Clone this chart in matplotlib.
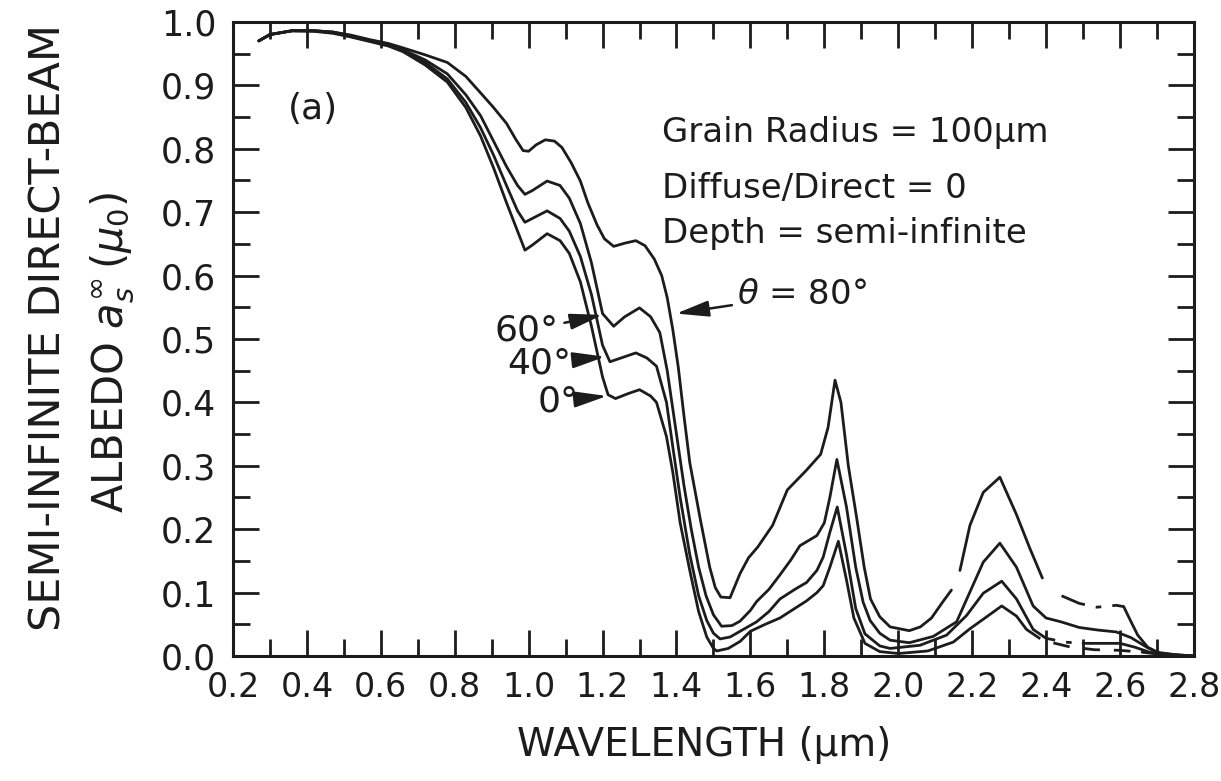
import numpy as np
import matplotlib.pyplot as plt
from matplotlib.ticker import MultipleLocator, FormatStrFormatter

# direct-beam albedo of semi-infinite snow
# one wavelength / albedo pair per solar zenith angle
wl_80 = [0.27, 0.30, 0.36, 0.42, 0.47, 0.52, 0.57, 0.62, 0.66, 0.72, 0.78, 0.83,
         0.87, 0.905, 0.94, 0.965, 0.985, 1.00, 1.02, 1.045, 1.07, 1.09, 1.115,
         1.14, 1.16, 1.185, 1.205, 1.23, 1.26, 1.29, 1.315, 1.34, 1.36, 1.375,
         1.39, 1.405, 1.42, 1.436, 1.465, 1.49, 1.505, 1.52, 1.545, 1.572, 1.595,
         1.62, 1.66, 1.70, 1.75, 1.79, 1.81, 1.829, 1.845, 1.865, 1.887, 1.908,
         1.925, 1.95, 1.978, 2.03, 2.06, 2.09, 2.12, 2.144, 2.167, 2.194, 2.23,
         2.275, 2.32, 2.356, 2.39, 2.442, 2.49, 2.537, 2.59, 2.61, 2.63, 2.648,
         2.675, 2.70, 2.75, 2.80]
alb_80 = [0.970, 0.980, 0.986, 0.986, 0.984, 0.979, 0.972, 0.966, 0.959, 0.948,
          0.936, 0.914, 0.888, 0.865, 0.840, 0.815, 0.797, 0.796, 0.806, 0.814,
          0.812, 0.802, 0.778, 0.749, 0.715, 0.680, 0.658, 0.646, 0.651, 0.655,
          0.647, 0.626, 0.600, 0.565, 0.515, 0.455, 0.380, 0.305, 0.214, 0.140,
          0.108, 0.093, 0.092, 0.130, 0.155, 0.172, 0.206, 0.262, 0.292, 0.318,
          0.360, 0.435, 0.400, 0.300, 0.220, 0.140, 0.090, 0.062, 0.046, 0.040,
          0.046, 0.060, 0.085, 0.104, 0.135, 0.206, 0.258, 0.282, 0.223, 0.170,
          0.123, 0.095, 0.083, 0.077, 0.080, 0.078, 0.054, 0.033, 0.014, 0.006,
          0.002, 0.0]

wl_60 = [0.27, 0.30, 0.36, 0.42, 0.47, 0.52, 0.57, 0.62, 0.66, 0.72, 0.78, 0.83,
         0.87, 0.905, 0.94, 0.97, 0.99, 1.01, 1.05, 1.085, 1.11, 1.14, 1.17, 1.20,
         1.23, 1.26, 1.30, 1.33, 1.355, 1.375, 1.39, 1.405, 1.42, 1.44, 1.46, 1.48,
         1.50, 1.522, 1.55, 1.572, 1.60, 1.617, 1.65, 1.68, 1.71, 1.734, 1.76,
         1.78, 1.80, 1.815, 1.834, 1.86, 1.885, 1.905, 1.924, 1.95, 1.978, 2.03,
         2.095, 2.158, 2.194, 2.23, 2.275, 2.32, 2.365, 2.40, 2.44, 2.49, 2.54,
         2.59, 2.63, 2.675, 2.71, 2.80]
alb_60 = [0.970, 0.980, 0.986, 0.986, 0.984, 0.978, 0.971, 0.964, 0.956, 0.940,
          0.918, 0.885, 0.852, 0.812, 0.772, 0.742, 0.728, 0.734, 0.749, 0.742,
          0.722, 0.682, 0.620, 0.540, 0.520, 0.535, 0.549, 0.535, 0.510, 0.450,
          0.390, 0.330, 0.270, 0.200, 0.140, 0.095, 0.065, 0.047, 0.048, 0.055,
          0.072, 0.086, 0.105, 0.128, 0.152, 0.174, 0.183, 0.190, 0.210, 0.250,
          0.310, 0.235, 0.140, 0.085, 0.056, 0.036, 0.025, 0.021, 0.031, 0.054,
          0.101, 0.148, 0.178, 0.140, 0.079, 0.060, 0.054, 0.045, 0.041, 0.038,
          0.029, 0.013, 0.004, 0.0]

wl_40 = [0.27, 0.30, 0.36, 0.42, 0.47, 0.52, 0.57, 0.62, 0.66, 0.72, 0.78, 0.83,
         0.87, 0.905, 0.94, 0.97, 0.99, 1.01, 1.05, 1.085, 1.11, 1.14, 1.17, 1.20,
         1.22, 1.26, 1.29, 1.32, 1.346, 1.373, 1.39, 1.41, 1.436, 1.46, 1.482,
         1.50, 1.518, 1.545, 1.572, 1.617, 1.65, 1.68, 1.72, 1.752, 1.78, 1.797,
         1.815, 1.835, 1.86, 1.885, 1.91, 1.95, 1.978, 2.059, 2.131, 2.185, 2.23,
         2.28, 2.32, 2.365, 2.40, 2.45, 2.50, 2.55, 2.60, 2.64, 2.68, 2.72, 2.80]
alb_40 = [0.970, 0.980, 0.986, 0.986, 0.983, 0.977, 0.970, 0.963, 0.955, 0.936,
          0.910, 0.873, 0.833, 0.790, 0.742, 0.702, 0.684, 0.690, 0.702, 0.690,
          0.670, 0.630, 0.570, 0.490, 0.464, 0.472, 0.478, 0.470, 0.457, 0.400,
          0.330, 0.250, 0.160, 0.095, 0.056, 0.036, 0.027, 0.030, 0.039, 0.054,
          0.070, 0.090, 0.105, 0.116, 0.135, 0.156, 0.195, 0.235, 0.160, 0.075,
          0.035, 0.016, 0.012, 0.017, 0.033, 0.064, 0.099, 0.118, 0.090, 0.042,
          0.028, 0.022, 0.020, 0.020, 0.020, 0.014, 0.006, 0.002, 0.0]

wl_0 = [0.27, 0.30, 0.36, 0.42, 0.47, 0.52, 0.57, 0.62, 0.66, 0.72, 0.78, 0.83,
        0.87, 0.905, 0.94, 0.97, 0.99, 1.01, 1.05, 1.085, 1.11, 1.14, 1.17, 1.20,
        1.215, 1.235, 1.27, 1.30, 1.33, 1.346, 1.373, 1.39, 1.41, 1.436, 1.46,
        1.482, 1.50, 1.509, 1.54, 1.572, 1.60, 1.64, 1.68, 1.72, 1.752, 1.78,
        1.797, 1.815, 1.838, 1.86, 1.88, 1.91, 1.95, 2.00, 2.08, 2.149, 2.194,
        2.23, 2.28, 2.32, 2.347, 2.39, 2.46, 2.53, 2.60, 2.66, 2.72, 2.80]
alb_0 = [0.970, 0.980, 0.986, 0.985, 0.982, 0.976, 0.969, 0.962, 0.953, 0.932,
         0.905, 0.865, 0.820, 0.770, 0.715, 0.670, 0.640, 0.648, 0.666, 0.655,
         0.635, 0.590, 0.520, 0.440, 0.412, 0.406, 0.414, 0.420, 0.410, 0.400,
         0.346, 0.290, 0.210, 0.135, 0.070, 0.030, 0.012, 0.008, 0.012, 0.023,
         0.039, 0.050, 0.060, 0.075, 0.087, 0.100, 0.111, 0.140, 0.181, 0.120,
         0.060, 0.020, 0.007, 0.004, 0.008, 0.022, 0.043, 0.058, 0.079, 0.063,
         0.042, 0.025, 0.015, 0.010, 0.009, 0.006, 0.002, 0.0]

INK = "#1c1c1c"
DASHDOT = (0, (9, 4, 2, 4))
DASHED = (0, (6, 5))

# which stretches of each curve are solid, broken or dash-dotted
pieces_80 = [(0.0, 2.144, "-"), (2.167, 2.39, "-"), (2.442, 2.61, DASHDOT), (2.61, 3.0, "-")]
pieces_60 = [(0.0, 3.0, "-")]
pieces_40 = [(0.0, 2.365, "-"), (2.365, 2.50, DASHDOT), (2.50, 3.0, "-")]
pieces_0 = [(0.0, 2.347, "-"), (2.347, 2.66, DASHED), (2.66, 3.0, "-")]

plt.rcParams["font.family"] = ["DejaVu Sans"]
plt.rcParams["mathtext.fontset"] = "dejavusans"

fig = plt.figure(figsize=(12.21, 7.81), dpi=100)
ax = fig.add_axes([0.1908, 0.160, 0.787, 0.812])


def draw(wl, alb, pieces):
    wl = np.asarray(wl)
    alb = np.asarray(alb)
    for lo, hi, ls in pieces:
        m = (wl >= lo - 1e-9) & (wl <= hi + 1e-9)
        ax.plot(wl[m], alb[m], color=INK, lw=2.0, ls=ls,
                solid_capstyle="round", solid_joinstyle="round")


draw(wl_80, alb_80, pieces_80)
draw(wl_60, alb_60, pieces_60)
draw(wl_40, alb_40, pieces_40)
draw(wl_0, alb_0, pieces_0)

ax.set_xlim(0.2, 2.8)
ax.set_ylim(0.0, 1.0)
ax.xaxis.set_major_locator(MultipleLocator(0.2))
ax.xaxis.set_minor_locator(MultipleLocator(0.1))
ax.yaxis.set_major_locator(MultipleLocator(0.1))
ax.yaxis.set_minor_locator(MultipleLocator(0.05))
ax.xaxis.set_major_formatter(FormatStrFormatter("%.1f"))
ax.yaxis.set_major_formatter(FormatStrFormatter("%.1f"))
ax.tick_params(which="both", direction="in", top=True, right=True,
               width=2.0, color=INK, labelcolor=INK)
ax.tick_params(which="major", length=19)
ax.tick_params(which="minor", length=12)
ax.tick_params(axis="x", labelsize=24, pad=11)
ax.tick_params(axis="y", labelsize=25, pad=12)
for s in ax.spines.values():
    s.set_linewidth(2.2)
    s.set_color(INK)

# annotations
ax.text(0.416, 0.863, "(a)", fontsize=26, ha="center", va="center", color=INK)
ax.text(1.361, 0.825, "Grain Radius = 100μm", fontsize=24.5, va="center", color=INK)
ax.text(1.361, 0.738, "Diffuse/Direct = 0", fontsize=24.5, va="center", color=INK)
ax.text(1.361, 0.667, "Depth = semi-infinite", fontsize=24.5, va="center", color=INK)

arrow = dict(arrowstyle="-|>,head_length=0.9,head_width=0.22", color=INK,
             lw=1.8, mutation_scale=22, shrinkA=2, shrinkB=0)
ax.annotate(r"$\theta$ = 80°", xy=(1.399, 0.54), xytext=(1.565, 0.57),
            fontsize=24.5, ha="left", va="center", color=INK, arrowprops=arrow)
ax.annotate("60°", xy=(1.20, 0.538), xytext=(0.995, 0.513),
            fontsize=26, ha="center", va="center", color=INK, arrowprops=arrow)
ax.annotate("40°", xy=(1.207, 0.472), xytext=(1.03, 0.461),
            fontsize=26, ha="center", va="center", color=INK, arrowprops=arrow)
ax.annotate("0°", xy=(1.212, 0.41), xytext=(1.08, 0.402),
            fontsize=26, ha="center", va="center", color=INK, arrowprops=arrow)

# axis titles
fig.text(0.040, 0.581, "SEMI-INFINITE DIRECT-BEAM", rotation=90,
         fontsize=31, ha="center", va="center", color=INK)
fig.text(0.0917, 0.549, r"ALBEDO $a_s^{\infty}\,(\mu_0)$", rotation=90,
         fontsize=30, ha="center", va="center", color=INK)
fig.text(0.577, 0.046, "WAVELENGTH (μm)", fontsize=28,
         ha="center", va="center", color=INK)

fig.savefig("out.png", dpi=100, facecolor="white")
